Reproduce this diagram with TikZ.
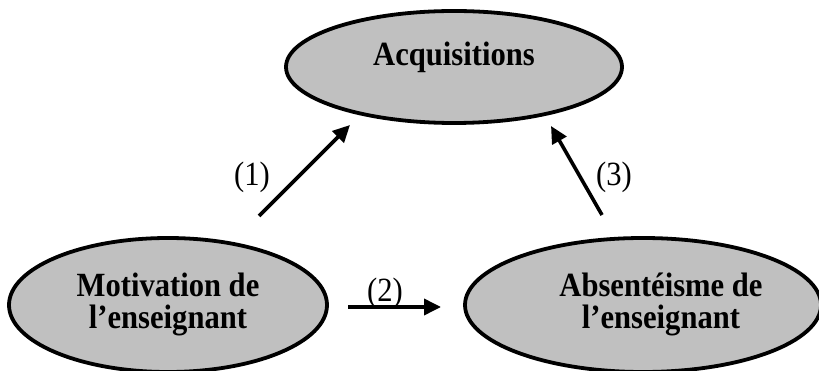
\documentclass[tikz,border=0pt]{standalone}
\usepackage{fontspec}
\usepackage{graphicx}
\setmainfont{Liberation Serif}
\usetikzlibrary{shapes.geometric,arrows.meta}
\definecolor{ellgray}{HTML}{C0C0C0}
\newcommand{\tallt}[1]{\scalebox{1.02}[1.13]{#1}}
\tikzset{
  ell/.style={draw=black, line width=3.8pt, fill=ellgray},
  lab/.style={font=\fontsize{30}{30}\selectfont\bfseries, align=center},
  num/.style={font=\fontsize{30}{30}\selectfont},
  arr/.style={line width=3.6pt, -{Triangle[length=17pt,width=16pt]}}
}
\begin{document}
\begin{tikzpicture}[x=1pt,y=-1pt]
\useasboundingbox (0,0) rectangle (819,371);
\begin{scope}
\clip (0,0) rectangle (819,371);
\draw[ell] (454,67) ellipse [x radius=168, y radius=56];
\draw[ell] (168,305) ellipse [x radius=159, y radius=67];
\draw[ell] (643,305) ellipse [x radius=178, y radius=67];
\end{scope}
\node[lab] (acq) at (454,57) {\tallt{Acquisitions}};
\node[lab] (mot) at (168,306) {\tallt{\begin{tabular}{c}Motivation de\\[-2pt]l’enseignant\end{tabular}}};
\node[lab] (abs) at (661,306) {\tallt{\begin{tabular}{c}Absentéisme de\\[-2pt]l’enseignant\end{tabular}}};
\coordinate (a1s) at (259,216);
\coordinate (a1e) at (350,125);
\coordinate (a3s) at (602,215);
\coordinate (a3e) at (551,126);
\coordinate (a2s) at (348,307);
\coordinate (a2e) at (441,307);
\draw[arr] (a1s) -- (a1e);
\draw[arr] (a3s) -- (a3e);
\draw[arr] (a2s) -- (a2e);
\node[num] (n1) at (252,177) {\tallt{(1)}};
\node[num] (n3) at (614,177) {\tallt{(3)}};
\node[num] (n2) at (385,293) {\tallt{(2)}};
\end{tikzpicture}
\end{document}
